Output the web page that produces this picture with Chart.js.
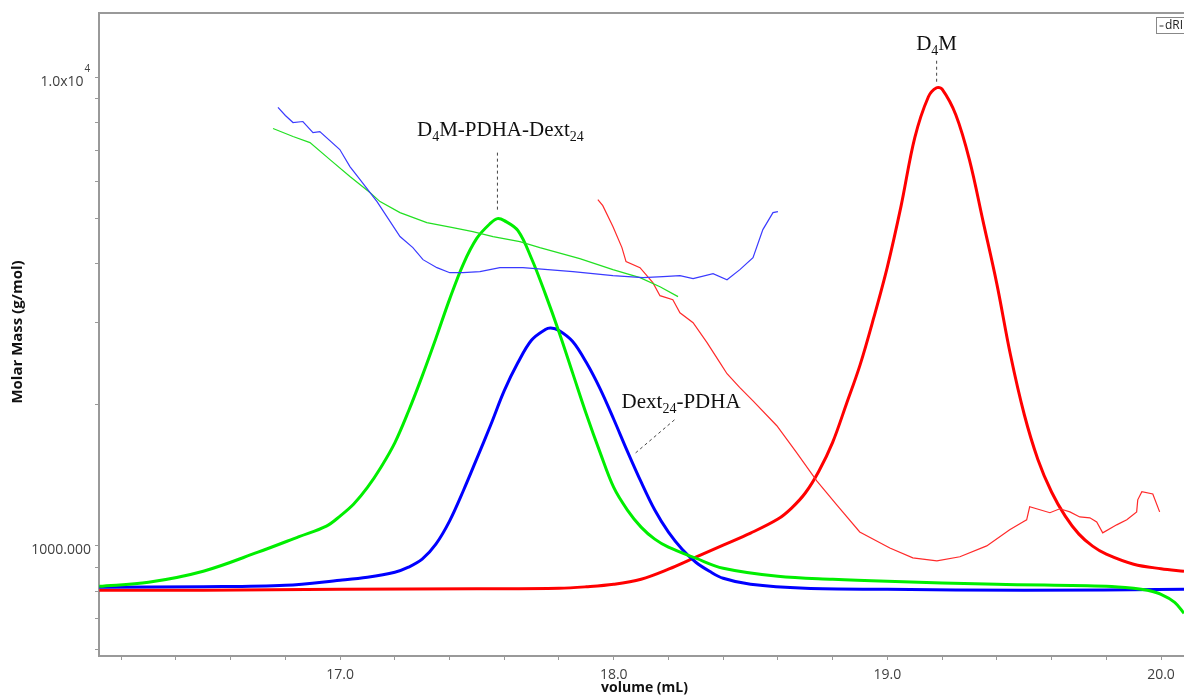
<!DOCTYPE html>
<html>
<head>
<meta charset="utf-8">
<title>Molar mass vs elution volume</title>
<script src="https://cdn.jsdelivr.net/npm/chart.js@4.4.1/dist/chart.umd.min.js"></script>
<style>
  html, body { margin: 0; padding: 0; background: #fff; }
  #wrap { width: 1184px; height: 695px; position: relative; }
</style>
</head>
<body>
<div id="wrap"><canvas id="sec"></canvas></div>
<script>
// Elution volume window (mL)
const volMin = 16.119;
const volMax = 20.084;

// Molar mass axis range (g/mol, log) and tick marks
const massMin = 582;
const massMax = 13730;
const massTicks = [600, 700, 800, 900, 1000, 2000, 3000, 4000, 5000, 6000, 7000, 8000, 9000, 10000];

// dRI detector signal, normalised to the D4M peak
const riMin = -0.133;
const riMax = 1.149;

// D4M-PDHA-Dext24 (green) dRI
const conjRiVol = [16.12, 16.3, 16.5, 16.7, 16.85, 16.95, 17.0, 17.05, 17.1, 17.15, 17.2, 17.25, 17.3, 17.35, 17.4, 17.45, 17.5, 17.55, 17.575, 17.6, 17.65, 17.7, 17.75, 17.8, 17.85, 17.9, 17.95, 18.0, 18.05, 18.1, 18.15, 18.2, 18.3, 18.4, 18.6, 18.8, 19.0, 19.4, 19.8, 19.9, 19.95, 20.0, 20.05, 20.084];
const conjRi = [0.006, 0.014, 0.036, 0.074, 0.105, 0.126, 0.146, 0.170, 0.203, 0.244, 0.292, 0.355, 0.425, 0.500, 0.578, 0.648, 0.700, 0.730, 0.739, 0.735, 0.715, 0.659, 0.589, 0.513, 0.431, 0.349, 0.273, 0.203, 0.158, 0.124, 0.100, 0.084, 0.062, 0.042, 0.026, 0.020, 0.016, 0.010, 0.006, 0.002, -0.002, -0.010, -0.026, -0.048];

// Dext24-PDHA (blue) dRI
const dextRiVol = [16.12, 16.5, 16.8, 17.0, 17.1, 17.2, 17.25, 17.3, 17.35, 17.4, 17.45, 17.5, 17.55, 17.6, 17.65, 17.7, 17.75, 17.77, 17.8, 17.85, 17.9, 17.95, 18.0, 18.05, 18.1, 18.15, 18.2, 18.25, 18.3, 18.35, 18.4, 18.5, 18.7, 19.0, 19.5, 20.084];
const dextRi = [0.004, 0.005, 0.008, 0.018, 0.024, 0.034, 0.044, 0.060, 0.090, 0.136, 0.196, 0.261, 0.327, 0.396, 0.452, 0.497, 0.518, 0.521, 0.516, 0.494, 0.452, 0.400, 0.339, 0.275, 0.214, 0.158, 0.114, 0.080, 0.054, 0.036, 0.022, 0.010, 0.002, 0.000, -0.002, 0.000];

// D4M (red) dRI
const d4mRiVol = [16.12, 16.5, 17.0, 17.5, 17.8, 17.9, 18.0, 18.1, 18.2, 18.3, 18.4, 18.5, 18.6, 18.65, 18.7, 18.75, 18.8, 18.85, 18.9, 18.95, 19.0, 19.05, 19.1, 19.15, 19.18, 19.2, 19.25, 19.3, 19.35, 19.4, 19.45, 19.5, 19.55, 19.6, 19.65, 19.7, 19.75, 19.8, 19.9, 20.0, 20.084];
const d4mRi = [-0.002, -0.002, 0.000, 0.001, 0.002, 0.005, 0.010, 0.020, 0.040, 0.064, 0.088, 0.112, 0.140, 0.162, 0.192, 0.236, 0.293, 0.369, 0.447, 0.541, 0.643, 0.764, 0.900, 0.982, 1.000, 0.997, 0.946, 0.856, 0.733, 0.609, 0.467, 0.349, 0.259, 0.194, 0.146, 0.110, 0.086, 0.070, 0.050, 0.041, 0.036];

// Molar mass traces (g/mol)
const dextMassVol = [16.773, 16.80, 16.828, 16.864, 16.901, 16.926, 16.999, 17.036, 17.073, 17.135, 17.171, 17.219, 17.266, 17.303, 17.354, 17.401, 17.449, 17.511, 17.584, 17.668, 17.851, 17.997, 18.107, 18.180, 18.242, 18.290, 18.363, 18.414, 18.461, 18.509, 18.545, 18.582, 18.600];
const dextMass = [8630, 8296, 8014, 8054, 7629, 7666, 7017, 6453, 6055, 5433, 5047, 4575, 4333, 4084, 3926, 3830, 3830, 3850, 3926, 3926, 3850, 3775, 3738, 3756, 3775, 3719, 3812, 3701, 3888, 4125, 4734, 5147, 5173];

const conjMassVol = [16.755, 16.828, 16.890, 16.963, 17.036, 17.109, 17.146, 17.219, 17.317, 17.412, 17.485, 17.559, 17.657, 17.730, 17.876, 17.997, 18.096, 18.169, 18.235];
const conjMass = [7780, 7480, 7262, 6679, 6145, 5681, 5433, 5147, 4899, 4781, 4688, 4575, 4464, 4333, 4105, 3888, 3738, 3576, 3405];

const d4mMassVol = [17.942, 17.960, 17.997, 18.030, 18.045, 18.096, 18.143, 18.169, 18.216, 18.242, 18.290, 18.341, 18.388, 18.414, 18.460, 18.509, 18.596, 18.669, 18.742, 18.815, 18.899, 19.009, 19.093, 19.181, 19.265, 19.363, 19.447, 19.495, 19.509, 19.520, 19.594, 19.630, 19.667, 19.703, 19.740, 19.765, 19.787, 19.838, 19.875, 19.911, 19.915, 19.930, 19.970, 19.995];
const d4mMass = [5488, 5326, 4805, 4333, 4045, 3926, 3648, 3421, 3354, 3146, 2996, 2716, 2461, 2331, 2180, 2040, 1805, 1580, 1377, 1223, 1071, 990, 943, 929, 948, 1000, 1082, 1125, 1137, 1212, 1177, 1200, 1182, 1153, 1148, 1125, 1066, 1109, 1137, 1182, 1254, 1305, 1291, 1182];

// Peak labels
const peakLabels = [
  { parts: [['D'], ['4', true], ['M-PDHA-Dext'], ['24', true]], vol: 17.575, ri: 0.739 },
  { parts: [['D'], ['4', true], ['M']], vol: 19.18, ri: 1.0 },
  { parts: [['Dext'], ['24', true], ['-PDHA']], vol: 18.08, ri: 0.272 }
];

const toPoints = (xs, ys) => xs.map((v, i) => ({ x: v, y: ys[i] }));

const RED = '#ff0000';
const GREEN = '#00ee00';
const BLUE = '#0000ff';

function massLine(label, xs, ys, color) {
  return {
    label: label,
    data: toPoints(xs, ys),
    yAxisID: 'y',
    borderColor: color,
    borderWidth: 1.2,
    pointRadius: 0,
    tension: 0
  };
}

function riLine(label, xs, ys, color) {
  return {
    label: label,
    data: toPoints(xs, ys),
    yAxisID: 'ri',
    borderColor: color,
    borderWidth: 3,
    pointRadius: 0,
    tension: 0.35
  };
}

// draws text with subscript pieces, returns width
function richText(ctx, parts, x, y, align) {
  const big = '21px "Liberation Serif", "Times New Roman", serif';
  const small = '14px "Liberation Serif", "Times New Roman", serif';
  let total = 0;
  parts.forEach(p => { ctx.font = p[1] ? small : big; total += ctx.measureText(p[0]).width; });
  let cx = align === 'center' ? x - total / 2 : x;
  ctx.textAlign = 'left';
  ctx.textBaseline = 'alphabetic';
  parts.forEach(p => {
    ctx.font = p[1] ? small : big;
    ctx.fillText(p[0], cx, p[1] ? y + 5 : y);
    cx += ctx.measureText(p[0]).width;
  });
  return total;
}

const decor = {
  id: 'decor',
  beforeDraw(chart) {
    const ctx = chart.ctx;
    ctx.save();
    ctx.fillStyle = '#fff';
    ctx.fillRect(0, 0, chart.width, chart.height);
    ctx.restore();
  },
  afterDraw(chart) {
    const ctx = chart.ctx;
    const area = chart.chartArea;
    const xs = chart.scales.x;
    const ys = chart.scales.y;
    const rs = chart.scales.ri;
    ctx.save();

    // top frame line
    ctx.strokeStyle = '#999';
    ctx.lineWidth = 2;
    ctx.beginPath();
    ctx.moveTo(area.left - 1, area.top);
    ctx.lineTo(chart.width, area.top);
    ctx.stroke();

    // molar mass tick labels
    ctx.fillStyle = '#404040';
    ctx.font = '14px "Open Sans", sans-serif';
    ctx.textAlign = 'right';
    ctx.textBaseline = 'middle';
    ctx.fillText('1000.000', 91, ys.getPixelForValue(1000) + 4);
    ctx.fillText('1.0x10', 83.5, ys.getPixelForValue(10000) + 4.5);
    ctx.font = '10px "Open Sans", sans-serif';
    ctx.textAlign = 'left';
    ctx.fillText('4', 84.5, ys.getPixelForValue(10000) - 8);

    // axis titles
    ctx.fillStyle = '#111';
    ctx.font = 'bold 14px "Open Sans", sans-serif';
    ctx.textAlign = 'center';
    ctx.textBaseline = 'middle';
    ctx.fillText('volume (mL)', (area.left + area.right) / 2 + 3, 688);
    ctx.font = 'bold 15px "Open Sans", sans-serif';
    ctx.translate(18, 332);
    ctx.rotate(-Math.PI / 2);
    ctx.fillText('Molar Mass (g/mol)', 0, 0);
    ctx.setTransform(1, 0, 0, 1, 0, 0);

    // legend box
    ctx.fillStyle = '#fff';
    ctx.fillRect(1156.5, 17.5, 44, 16);
    ctx.strokeStyle = '#888';
    ctx.lineWidth = 1;
    ctx.strokeRect(1156.5, 17.5, 44, 16);
    ctx.strokeStyle = '#333';
    ctx.beginPath();
    ctx.moveTo(1159.5, 26);
    ctx.lineTo(1163.5, 26);
    ctx.stroke();
    ctx.fillStyle = '#222';
    ctx.font = '12px "Open Sans", sans-serif';
    ctx.textAlign = 'left';
    ctx.textBaseline = 'middle';
    ctx.fillText('dRI', 1165, 26);

    // peak labels with dashed leaders
    ctx.fillStyle = '#111';
    ctx.strokeStyle = '#444';
    ctx.lineWidth = 1;
    ctx.setLineDash([3, 3]);
    const [conj, d4m, dext] = peakLabels;

    let px = xs.getPixelForValue(conj.vol);
    let py = rs.getPixelForValue(conj.ri);
    ctx.beginPath();
    ctx.moveTo(px, py - 9);
    ctx.lineTo(px, py - 67);
    ctx.stroke();
    richText(ctx, conj.parts, px + 3, py - 83, 'center');

    px = xs.getPixelForValue(d4m.vol);
    py = rs.getPixelForValue(d4m.ri);
    ctx.beginPath();
    ctx.moveTo(px, py - 6);
    ctx.lineTo(px, py - 30);
    ctx.stroke();
    richText(ctx, d4m.parts, px, py - 38, 'center');

    px = xs.getPixelForValue(dext.vol);
    py = rs.getPixelForValue(dext.ri);
    ctx.beginPath();
    ctx.moveTo(px, py);
    ctx.lineTo(px + 40, py - 34);
    ctx.stroke();
    richText(ctx, dext.parts, px - 14, py - 45, 'left');

    ctx.restore();
  }
};

new Chart(document.getElementById('sec'), {
  type: 'line',
  data: {
    datasets: [
      massLine('Mw Dext24-PDHA', dextMassVol, dextMass, '#3a3aff'),
      massLine('Mw D4M-PDHA-Dext24', conjMassVol, conjMass, '#22e022'),
      massLine('Mw D4M', d4mMassVol, d4mMass, '#ff2a2a'),
      riLine('dRI D4M-PDHA-Dext24', conjRiVol, conjRi, GREEN),
      riLine('dRI Dext24-PDHA', dextRiVol, dextRi, BLUE),
      riLine('dRI D4M', d4mRiVol, d4mRi, RED)
    ]
  },
  options: {
    responsive: true,
    maintainAspectRatio: false,
    animation: false,
    layout: { padding: { top: 13, left: 0, right: 0, bottom: 0 } },
    plugins: {
      legend: { display: false },
      tooltip: { enabled: false }
    },
    scales: {
      x: {
        type: 'linear',
        min: volMin,
        max: volMax,
        ticks: {
          stepSize: 0.2,
          includeBounds: false,
          autoSkip: false,
          maxRotation: 0,
          padding: 7,
          color: '#404040',
          font: { family: '"Open Sans", sans-serif', size: 14 },
          callback: v => Math.abs(v - Math.round(v)) < 1e-6 ? v.toFixed(1) : ''
        },
        grid: { drawOnChartArea: false, drawTicks: true, tickLength: 4, color: '#999' },
        border: { color: '#999', width: 2 },
        afterFit: s => { s.height = 39; }
      },
      y: {
        type: 'logarithmic',
        position: 'left',
        min: massMin,
        max: massMax,
        ticks: { display: false },
        grid: { drawOnChartArea: false, drawTicks: true, tickLength: 4, color: '#999' },
        border: { color: '#999', width: 2 },
        afterBuildTicks: s => { s.ticks = massTicks.map(v => ({ value: v })); },
        afterFit: s => { s.width = 99; }
      },
      ri: {
        type: 'linear',
        position: 'right',
        display: false,
        min: riMin,
        max: riMax
      }
    }
  },
  plugins: [decor]
});
</script>
</body>
</html>
